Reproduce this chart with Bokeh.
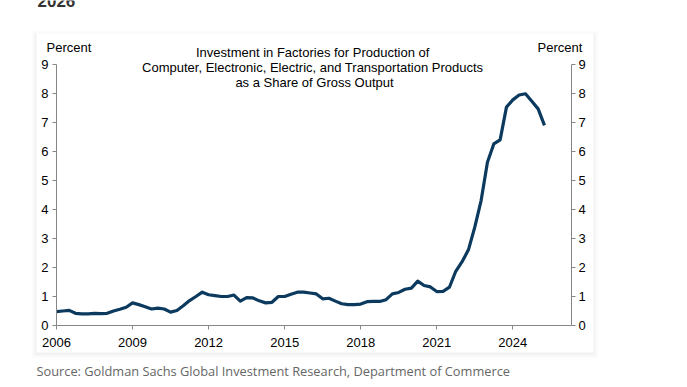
from bokeh.plotting import figure
from bokeh.models import (LinearAxis, Range1d, FixedTicker, Label, BoxAnnotation)
from bokeh.embed import file_html
from bokeh.resources import INLINE

# ---------------- data (quarterly, starting 2006 Q1) ----------------
start_year = 2006
share_pct = [
    0.48, 0.50, 0.52, 0.42, 0.40, 0.40, 0.42, 0.41,   # 2006-2007
    0.42, 0.50, 0.56, 0.63, 0.78, 0.72, 0.65, 0.57,   # 2008-2009
    0.60, 0.57, 0.46, 0.52, 0.68, 0.86, 1.00, 1.15,   # 2010-2011
    1.06, 1.03, 1.00, 1.00, 1.05, 0.84, 0.96, 0.95,   # 2012-2013
    0.85, 0.78, 0.80, 1.00, 1.00, 1.08, 1.15, 1.15,   # 2014-2015
    1.12, 1.09, 0.92, 0.94, 0.84, 0.75, 0.72, 0.72,   # 2016-2017
    0.74, 0.82, 0.83, 0.83, 0.89, 1.09, 1.14, 1.25,   # 2018-2019
    1.29, 1.53, 1.38, 1.33, 1.17, 1.18, 1.32, 1.87,   # 2020-2021
    2.20, 2.61, 3.39, 4.31, 5.63, 6.26, 6.40, 7.53,   # 2022-2023
    7.78, 7.95, 7.99, 7.73, 7.47, 6.90,               # 2024-2025
]
x_ticks = [2006, 2009, 2012, 2015, 2018, 2021, 2024]
y_ticks = [0, 1, 2, 3, 4, 5, 6, 7, 8, 9]
title_lines = [
    "Investment  in Factories for Production of",
    "Computer, Electronic, Electric, and Transportation  Products",
    "as a Share of Gross Output",
]
source_text = "Source: Goldman Sachs Global Investment Research, Department of Commerce"
heading_text = "2026"

x_vals = [start_year + i / 4 for i in range(len(share_pct))]

# ---------------- layout (frame covers the whole canvas) ----------------
W, H = 687, 387
AXL, AXR, AXT, AXB = 56, 571, 64, 325      # pixel positions of the chart box
X0, Y0, Y1 = 2006.0, 0.0, 9.0
ppy = 25.35                                 # pixels per year
ppv = (AXB - AXT) / (Y1 - Y0)               # pixels per percent
X1 = X0 + (AXR - AXL) / ppy
xr = Range1d(X0 - AXL / ppy, X0 + (W - AXL) / ppy)
yr_ = Range1d(Y0 - (H - AXB) / ppv, Y0 + AXB / ppv)

FONT = "Liberation Sans"
AX = "#868686"
LINE = "#0b3a5e"

p = figure(width=W, height=H, output_backend="svg", toolbar_location=None,
           x_range=xr, y_range=yr_,
           min_border=0, min_border_left=0, min_border_right=0,
           min_border_top=0, min_border_bottom=0,
           x_axis_location=None, y_axis_location=None)
p.outline_line_color = None
p.background_fill_color = "white"
p.border_fill_color = "white"
p.xgrid.visible = False
p.ygrid.visible = False

# card with faint shadow (canvas pixels)
CL, CR, CT, CB = 36, 593, 33, 352
def cbox(l, r, t, b, color, alpha):
    p.add_layout(BoxAnnotation(left=l, right=r, top=t, bottom=b,
                               left_units="canvas", right_units="canvas",
                               top_units="canvas", bottom_units="canvas",
                               fill_color=color, fill_alpha=alpha,
                               line_color=None, level="underlay"))
for k, a in [(5, 0.006), (4, 0.008), (3, 0.01), (2, 0.012), (1, 0.015)]:
    cbox(CL - k, CR + k, CT - k + 2, CB + k + 1, "black", a)
cbox(CL, CR, CT, CB, "white", 1.0)

def style_axis(ax, ticks):
    ax.ticker = FixedTicker(ticks=ticks)
    ax.axis_line_color = AX
    ax.axis_line_width = 1
    ax.major_tick_line_color = AX
    ax.major_tick_out = 4
    ax.major_tick_in = 0
    ax.minor_tick_line_color = None
    ax.major_label_text_font = FONT
    ax.major_label_text_font_size = "13px"
    ax.major_label_text_color = "black"

xa = LinearAxis(fixed_location=Y0, bounds=(X0, X1))
style_axis(xa, x_ticks)
xa.major_label_standoff = 8
xa.major_label_overrides = {t: str(t) for t in x_ticks}
p.add_layout(xa, "below")

ya = LinearAxis(fixed_location=X0, bounds=(Y0, Y1))
style_axis(ya, y_ticks)
ya.major_label_standoff = 4
p.add_layout(ya, "left")

yb = LinearAxis(fixed_location=X1, bounds=(Y0, Y1))
style_axis(yb, y_ticks)
yb.major_label_standoff = 3
p.add_layout(yb, "right")

p.line(x_vals, share_pct, line_color=LINE, line_width=3.2, line_join="round")

def lab(text, cx, cy, size="13px", align="left", color="black", font=FONT, style="normal"):
    p.add_layout(Label(x=cx, y=cy, x_units="canvas", y_units="canvas", text=text,
                       text_font=font, text_font_size=size, text_align=align,
                       text_baseline="middle", text_color=color,
                       text_font_style=style))

lab(heading_text, 37, 0, size="17px", color="#333333", style="bold")
lab("Percent", 46, 47)
lab("Percent", 537, 47)
for i, t in enumerate(title_lines):
    lab(t, 314, 52.4 + i * 14.7, align="center")
lab(source_text, 36, 370.5, size="12.8px", color="#666666", font="Open Sans")

open("out.html", "w").write(file_html(p, INLINE))
